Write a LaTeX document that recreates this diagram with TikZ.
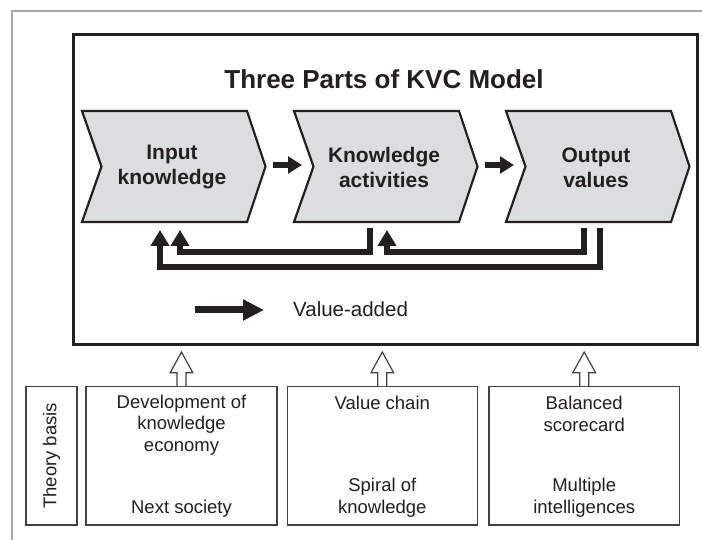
\documentclass[tikz,border=0pt]{standalone}
\usepackage{fontspec}
\setmainfont{Liberation Sans}
\usetikzlibrary{arrows.meta}
\definecolor{ink}{HTML}{231F20}
\definecolor{chevfill}{HTML}{DCDDDF}
\definecolor{framegray}{HTML}{A8A8A8}

\begin{document}
\begin{tikzpicture}[x=1pt,y=-1pt,
  every node/.style={inner sep=0pt, text=ink},
  chev/.style={draw=ink, line width=2.2pt, fill=chevfill, line join=miter},
  chevtext/.style={font=\fontsize{21}{25}\selectfont\bfseries, align=center},
  flow/.style={draw=ink, line width=6.6pt, -{Triangle[length=14pt,width=16.6pt]}},
  feedback/.style={draw=ink, line width=5.5pt, line join=miter, -{Triangle[length=16pt,width=18pt]}},
  legendarrow/.style={draw=ink, line width=7pt, -{Triangle[length=21pt,width=20pt]}},
  basisbox/.style={draw=ink!85, line width=1.2pt, minimum height=138.3pt},
  basistext/.style={font=\fontsize{18.5}{21.7}\selectfont, align=center},
  hollow/.style={draw=ink!85, line width=1.2pt, fill=white, line join=miter},
]
\useasboundingbox (0,0) rectangle (702,540);

% outer page rule
\draw[framegray, line width=1.2pt] (702,11) -- (12,11) -- (12,540);

% model frame and title
\node[draw=ink, line width=3pt, minimum width=624pt, minimum height=310pt,
      anchor=north west] (frame) at (72,33) {};
\node[font=\fontsize{26}{30}\selectfont\bfseries] (title) at (384,79) {Three Parts of KVC Model};

% the three chevrons
\draw[chev] (82,111) -- ++(165,0) -- ++(18.5,55.5) coordinate (tip1)
  -- ++(-18.5,55.5) -- ++(-165,0) -- ++(19.5,-55.5) coordinate (notch1) -- cycle;
\draw[chev] (294,111) -- ++(165,0) -- ++(18.5,55.5) coordinate (tip2)
  -- ++(-18.5,55.5) -- ++(-165,0) -- ++(19.5,-55.5) coordinate (notch2) -- cycle;
\draw[chev] (506,111) -- ++(165,0) -- ++(18.5,55.5) coordinate (tip3)
  -- ++(-18.5,55.5) -- ++(-165,0) -- ++(19.5,-55.5) coordinate (notch3) -- cycle;

\node[chevtext] (input)  at (172,167.5) {Input\\knowledge};
\node[chevtext] (activ)  at (384,167.5) {Knowledge\\activities};
\node[chevtext] (output) at (596,167.5) {Output\\values};

% forward flow
\draw[flow] ([xshift=7.5pt,yshift=1.5pt]tip1) -- ([xshift=-11.5pt,yshift=1.5pt]notch2);
\draw[flow] ([xshift=7.5pt,yshift=1.5pt]tip2) -- ([xshift=-11.5pt,yshift=1.5pt]notch3);

% feedback loops
\coordinate (act-out)  at (370,228);
\coordinate (outv-a)   at (584,228);
\coordinate (outv-b)   at (600,228);
\coordinate (in-inner) at (180,230);
\coordinate (in-outer) at (160,230);
\coordinate (act-in)   at (387,230);
\draw[feedback] (act-out) -- ++(0,24) -| (in-inner);
\draw[feedback] (outv-a) -- ++(0,24) -| (act-in);
\draw[feedback] (outv-b) -- ++(0,39) -| (in-outer);

% legend
\coordinate (leg-s) at (195,310);
\coordinate (leg-e) at (264,310);
\draw[legendarrow] (leg-s) -- (leg-e);
\node[anchor=west, font=\fontsize{20.5}{24}\selectfont] (legtext) at (293,309) {Value-added};

% theory basis boxes
\node[basisbox, minimum width=51pt]    (b0) at (51.5,455.8) {};
\node[basisbox, minimum width=191pt]   (b1) at (181.5,455.8) {};
\node[basisbox, minimum width=190pt]   (b2) at (382.3,455.8) {};
\node[basisbox, minimum width=190.3pt] (b3) at (584.2,455.8) {};

\node[basistext, rotate=90] (t0) at (b0.center) {Theory basis};
\node[basistext] (t1a) at (181.5,425)   {Development of\\knowledge\\economy};
\node[basistext] (t1b) at (181.5,508.3) {Next society};
\node[basistext] (t2a) at (382.3,403.3) {Value chain};
\node[basistext] (t2b) at (382.3,497.5) {Spiral of\\knowledge};
\node[basistext] (t3a) at (584.2,414.2) {Balanced\\scorecard};
\node[basistext] (t3b) at (584.2,497.5) {Multiple\\intelligences};

% hollow arrows feeding the model
\foreach \b in {b1,b2,b3}{
  \draw[hollow] (\b.north) ++(-4.5,0) -- ++(0,-13.4) -- ++(-6.8,0)
    -- ++(11.3,-20.6) -- ++(11.3,20.6) -- ++(-6.8,0) -- ++(0,13.4);
}
\end{tikzpicture}
\end{document}
